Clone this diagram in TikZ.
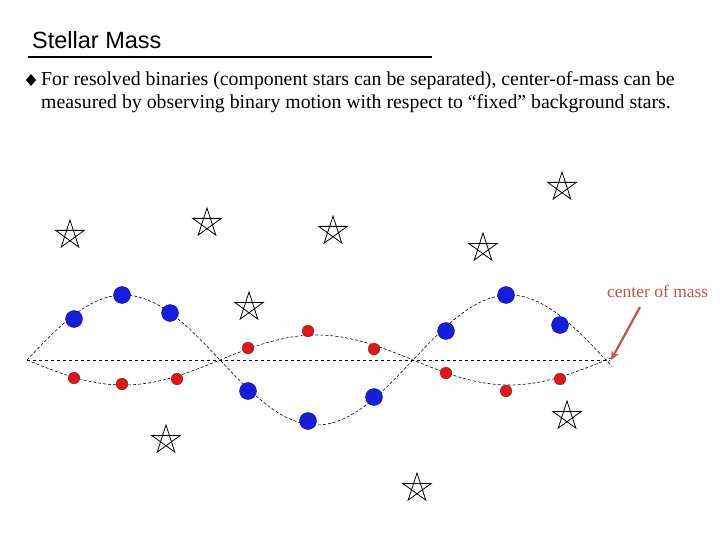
\documentclass[tikz,border=0pt]{standalone}
\usepackage{fontspec}
\setmainfont{Liberation Serif}
\newfontfamily\arialf{Liberation Sans}
\usetikzlibrary{arrows.meta}
\definecolor{bl}{RGB}{20,30,220}
\definecolor{rd}{RGB}{230,20,20}
\definecolor{brn}{RGB}{200,85,65}
\begin{document}
\begin{tikzpicture}[x=1pt,y=-1pt,
  bdot/.style={circle,fill=bl,draw=bl!60!black,inner sep=0pt,minimum size=17pt},
  rdot/.style={circle,fill=rd,draw=rd!60!black,inner sep=0pt,minimum size=11.5pt},
  orbit/.style={densely dashed,line width=0.6pt},
  stellar/.style={line width=0.8pt}]
\useasboundingbox (0,0) rectangle (720,540);
\node[anchor=west,inner sep=0pt,font=\arialf\fontsize{23.5}{27}\selectfont] (title) at (32,40) {Stellar Mass};
\draw[line width=1.5pt] (28,57) -- (432,57);
\fill (31,74) -- (36,80) -- (31,86) -- (26,80) -- cycle;
\node[anchor=north west,align=left,inner sep=0pt,font=\fontsize{19.8}{23}\selectfont] (txt) at (41,71)
 {For resolved binaries (component stars can be separated), center-of-mass can be\\measured by observing binary motion with respect to ``fixed'' background stars.};
\draw[dashed,line width=0.6pt] (27,360) -- (610,360);
\draw[orbit,domain=27:612,samples=150] plot (\x,{360-65*sin(0.93264*(\x-27))});
\draw[orbit,domain=27:612,samples=150] plot (\x,{360+25*sin(0.93264*(\x-27))});
\foreach \x/\y [count=\i] in {74/319,122/295,170/313,248/391,308/421,374/397,446/331,506/295,560/325}
  \node[bdot] (b\i) at (\x,\y) {};
\foreach \x/\y [count=\i] in {74/378,122/384,177/379,248/348,308/331,374/349,446/373,506/391,560/379}
  \node[rdot] (r\i) at (\x,\y) {};
\foreach \x/\y in {70/235,207/223,333/231,483/248,562/187,249/307,166/440,567/416,417/488}
  \draw[stellar] (\x+0,\y-15) -- (\x+8.8,\y+12.1) -- (\x-14.3,\y-4.6) -- (\x+14.3,\y-4.6) -- (\x-8.8,\y+12.1) -- cycle;
\node[anchor=west,inner sep=0pt,text=brn,font=\fontsize{17.5}{20}\selectfont] (com) at (607,291) {center of mass};
\coordinate (cm) at (611,360);
\draw[brn,line width=2.2pt,-{Stealth[length=9pt,width=8pt]}] (640,307) -- (cm);
\end{tikzpicture}
\end{document}
